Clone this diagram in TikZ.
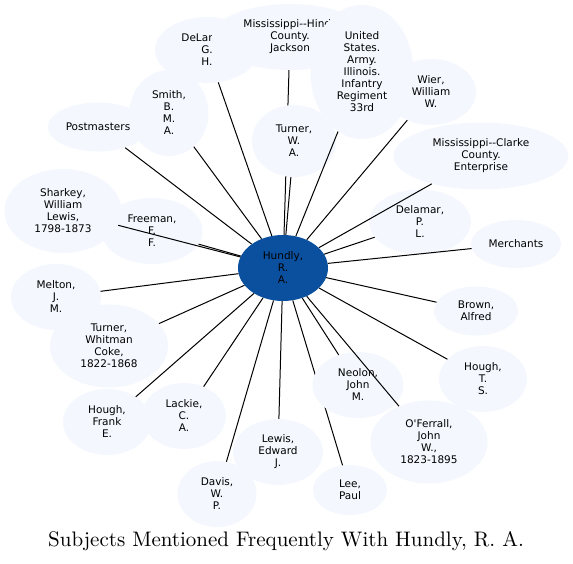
\documentclass[tikz,border=0pt]{standalone}
\usepackage{fontspec}
\newfontfamily\nodefont{DejaVu Sans}
\newfontfamily\titlefont{lmroman10-regular.otf}
\usetikzlibrary{shapes.geometric}
\definecolor{nodefill}{RGB}{244,248,254}
\definecolor{hubfill}{RGB}{11,80,158}
\tikzset{
  subj/.style={ellipse, fill=nodefill, inner sep=0pt, align=center, text=black,
    font=\nodefont\fontsize{10.5}{12}\selectfont},
  hub/.style={subj, fill=hubfill},
  sz/.style n args={2}{minimum width=#1, minimum height=#2},
  link/.style={draw=black, line width=1pt},
  titletext/.style={font=\titlefont\fontsize{21}{25}\selectfont}
}
\begin{document}
\begin{tikzpicture}[x=1pt,y=-1pt]
\fill[white] (0,0) rectangle (573,564);
\useasboundingbox (0,0) rectangle (573,564);
% hub
\node[hub, sz={90pt}{66pt}] (H) at (283,268) {Hundly,\\R.\\A.};
% top cluster
\node[subj, sz={104pt}{66pt}] (DLG) at (207,50) {DeLamar,\\G.\\H.};
\node[subj, sz={156pt}{66pt}] (MH) at (290,37) {Mississippi--Hinds\\County.\\Jackson};
\node[subj, sz={90pt}{66pt}] (WW) at (431,92) {Wier,\\William\\W.};
\node[subj, sz={103pt}{134pt}] (US) at (362,72) {United\\States.\\Army.\\Illinois.\\Infantry\\Regiment\\33rd};
\node[subj, sz={100pt}{49pt}] (PM) at (98,127) {Postmasters};
\node[subj, sz={79pt}{86pt}] (SM) at (169,113) {Smith,\\B.\\M.\\A.};
\draw[link] (H) -- (MH);
\node[subj, sz={84pt}{72pt}] (TWA) at (294,141) {Turner,\\W.\\A.};
\node[subj, sz={175pt}{67pt}] (MC) at (481,156) {Mississippi--Clarke\\County.\\Enterprise};
\node[subj, sz={117pt}{84pt}] (SH) at (63,211) {Sharkey,\\William\\Lewis,\\1798-1873};
\node[subj, sz={101pt}{66pt}] (FF) at (152,231) {Freeman,\\F.\\F.};
\node[subj, sz={102pt}{65pt}] (DPL) at (420,222) {Delamar,\\P.\\L.};
\node[subj, sz={90pt}{48pt}] (ME) at (516,244) {Merchants};
\node[subj, sz={90pt}{66pt}] (MJ) at (56,297) {Melton,\\J.\\M.};
\node[subj, sz={118pt}{83pt}] (TWC) at (109,346) {Turner,\\Whitman\\Coke,\\1822-1868};
\node[subj, sz={84pt}{49pt}] (BA) at (476,311) {Brown,\\Alfred};
\node[subj, sz={88pt}{66pt}] (HTS) at (483,379) {Hough,\\T.\\S.};
\node[subj, sz={88pt}{66pt}] (HFE) at (107,422) {Hough,\\Frank\\E.};
\node[subj, sz={84pt}{66pt}] (LCA) at (184,416) {Lackie,\\C.\\A.};
\node[subj, sz={90pt}{66pt}] (LEJ) at (278,452) {Lewis,\\Edward\\J.};
\node[subj, sz={79pt}{66pt}] (DWP) at (217,494) {Davis,\\W.\\P.};
\node[subj, sz={74pt}{50pt}] (LP) at (350,490) {Lee,\\Paul};
\node[subj, sz={117pt}{83pt}] (OF) at (429,442) {O'Ferrall,\\John\\W.,\\1823-1895};
\draw[link] (H) -- (LP);
\node[subj, sz={91pt}{66pt}] (NJM) at (358,385) {Neolon,\\John\\M.};
% remaining connectors
\draw[link] (H) -- (DLG);
\draw[link] (H) -- (US);
\draw[link] (H) -- (PM);
\draw[link] (H) -- (SM);
\draw[link] (H) -- (TWA);
\draw[link] (H) -- (WW);
\draw[link] (H) -- (MC);
\draw[link] (H) -- (SH);
\draw[link] (H) -- (FF);
\draw[link] (H) -- (DPL);
\draw[link] (H) -- (ME);
\draw[link] (H) -- (MJ);
\draw[link] (H) -- (TWC);
\draw[link] (H) -- (BA);
\draw[link] (H) -- (HTS);
\draw[link] (H) -- (HFE);
\draw[link] (H) -- (LCA);
\draw[link] (H) -- (LEJ);
\draw[link] (H) -- (DWP);
\draw[link] (H) -- (OF);
\draw[link] (H) -- (NJM);
% title
\node[titletext] (T) at (286,541) {Subjects Mentioned Frequently With Hundly, R. A.};
\end{tikzpicture}
\end{document}
